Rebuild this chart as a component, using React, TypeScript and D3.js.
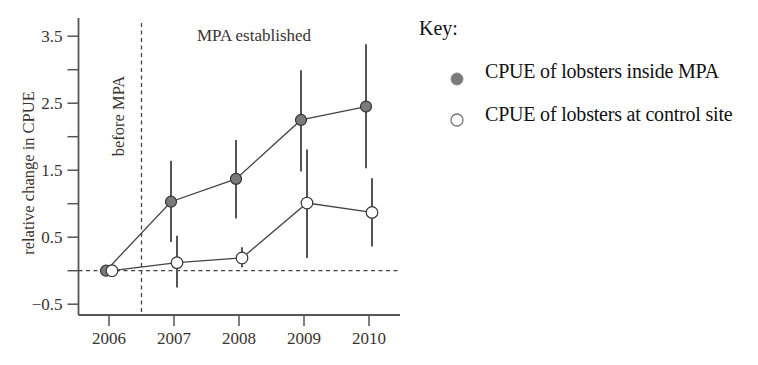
import React from "react";
import * as d3 from "d3";

const years = [2006, 2007, 2008, 2009, 2010];
const insideMean = [0, 1.03, 1.37, 2.25, 2.45];
const insideLow = [0, 0.43, 0.78, 1.48, 1.53];
const insideHigh = [0, 1.64, 1.95, 2.99, 3.38];
const controlMean = [0, 0.12, 0.19, 1.01, 0.87];
const controlLow = [0, -0.25, 0.05, 0.19, 0.36];
const controlHigh = [0, 0.52, 0.35, 1.81, 1.38];
const yTicks = [-0.5, 0, 0.5, 1, 1.5, 2, 2.5, 3, 3.5];
const yTickLabels = ["-0.5", "", "0.5", "", "1.5", "", "2.5", "", "3.5"];
const legendLabels = ["CPUE of lobsters inside MPA", "CPUE of lobsters at control site"];

const serif = "'Liberation Serif', 'Times New Roman', serif";
const textCol = "#3a3330";

export default function App() {
  const x = d3.scaleLinear().domain([2006, 2010]).range([109, 369]);
  const y = d3.scaleLinear().domain([0, 3.5]).range([270.7, 36.2]);
  const axisLeft = 78.5;
  const axisBottom = 315;
  const axisRight = 400;
  const axisTop = 18;
  const mk = (vals: number[], off: number) =>
    d3
      .line<number>()
      .x((_, i) => x(years[i]) + off)
      .y((v) => y(v))(vals) || "";
  const offIn = -3;
  const offCt = 3;
  return (
    <svg width={758} height={365} style={{ display: "block", position: "absolute", left: 0, top: 0 }}>
      <rect width={758} height={365} fill="#fff" />
      {/* axes */}
      <line x1={axisLeft} x2={axisLeft} y1={axisTop} y2={axisBottom} stroke="#555" strokeWidth={1.8} />
      <line x1={axisLeft} x2={axisRight} y1={axisBottom} y2={axisBottom} stroke="#555" strokeWidth={1.8} />
      {yTicks.map((t, i) => (
        <g key={t}>
          <line x1={axisLeft - 11} x2={axisLeft} y1={y(t)} y2={y(t)} stroke="#555" strokeWidth={1.5} />
          {yTickLabels[i] && (
            <text x={axisLeft - 16} y={y(t)} dy="0.33em" textAnchor="end" fontFamily={serif} fontSize={17} fill={textCol}>
              {yTickLabels[i].replace("-", "\u2212")}
            </text>
          )}
        </g>
      ))}
      {years.map((yr) => (
        <g key={yr}>
          <line x1={x(yr)} x2={x(yr)} y1={axisBottom} y2={axisBottom + 11} stroke="#555" strokeWidth={1.5} />
          <text x={x(yr)} y={344} textAnchor="middle" fontFamily={serif} fontSize={17} fill={textCol}>
            {yr}
          </text>
        </g>
      ))}
      <text
        transform={`translate(34,${173}) rotate(-90)`}
        textAnchor="middle"
        fontFamily={serif}
        fontSize={16.5}
        fill={textCol}
      >
        relative change in CPUE
      </text>
      {/* reference lines */}
      <line x1={x(2006.5)} x2={x(2006.5)} y1={23} y2={axisBottom} stroke="#444" strokeWidth={1.3} strokeDasharray="4,3.5" />
      <line x1={axisLeft} x2={axisRight} y1={y(0)} y2={y(0)} stroke="#444" strokeWidth={1.3} strokeDasharray="4,3.5" />
      <text x={254} y={41} textAnchor="middle" fontFamily={serif} fontSize={17} fill={textCol}>
        MPA established
      </text>
      <text
        transform={`translate(124,116) rotate(-90)`}
        textAnchor="middle"
        fontFamily={serif}
        fontSize={16.5}
        fill={textCol}
      >
        before MPA
      </text>
      {/* error bars */}
      {years.map((yr, i) => (
        <g key={"e" + yr}>
          {insideHigh[i] !== insideLow[i] && (
            <line x1={x(yr) + offIn} x2={x(yr) + offIn} y1={y(insideLow[i])} y2={y(insideHigh[i])} stroke="#555" strokeWidth={2} />
          )}
          {controlHigh[i] !== controlLow[i] && (
            <line x1={x(yr) + offCt} x2={x(yr) + offCt} y1={y(controlLow[i])} y2={y(controlHigh[i])} stroke="#555" strokeWidth={2} />
          )}
        </g>
      ))}
      {/* lines */}
      <path d={mk(insideMean, offIn)} fill="none" stroke="#444" strokeWidth={1.3} />
      <path d={mk(controlMean, offCt)} fill="none" stroke="#444" strokeWidth={1.3} />
      {/* points */}
      {insideMean.map((v, i) => (
        <circle key={"i" + i} cx={x(years[i]) + offIn} cy={y(v)} r={5.5} fill="#7a7a7a" stroke="#333" strokeWidth={1.2} />
      ))}
      {controlMean.map((v, i) => (
        <circle key={"c" + i} cx={x(years[i]) + offCt} cy={y(v)} r={5.8} fill="#fff" stroke="#333" strokeWidth={1.2} />
      ))}
      {/* legend */}
      <text x={419} y={35} fontFamily={serif} fontSize={20} fill="#111">
        Key:
      </text>
      <circle cx={457} cy={79} r={6} fill="#7a7a7a" stroke="#888" strokeWidth={1} />
      <text x={485} y={78} fontFamily={serif} fontSize={20} fill="#111" letterSpacing={-0.2}>
        {legendLabels[0]}
      </text>
      <circle cx={457} cy={120} r={6} fill="#fff" stroke="#777" strokeWidth={1.3} />
      <text x={485} y={121} fontFamily={serif} fontSize={20} fill="#111" letterSpacing={-0.2}>
        {legendLabels[1]}
      </text>
    </svg>
  );
}
